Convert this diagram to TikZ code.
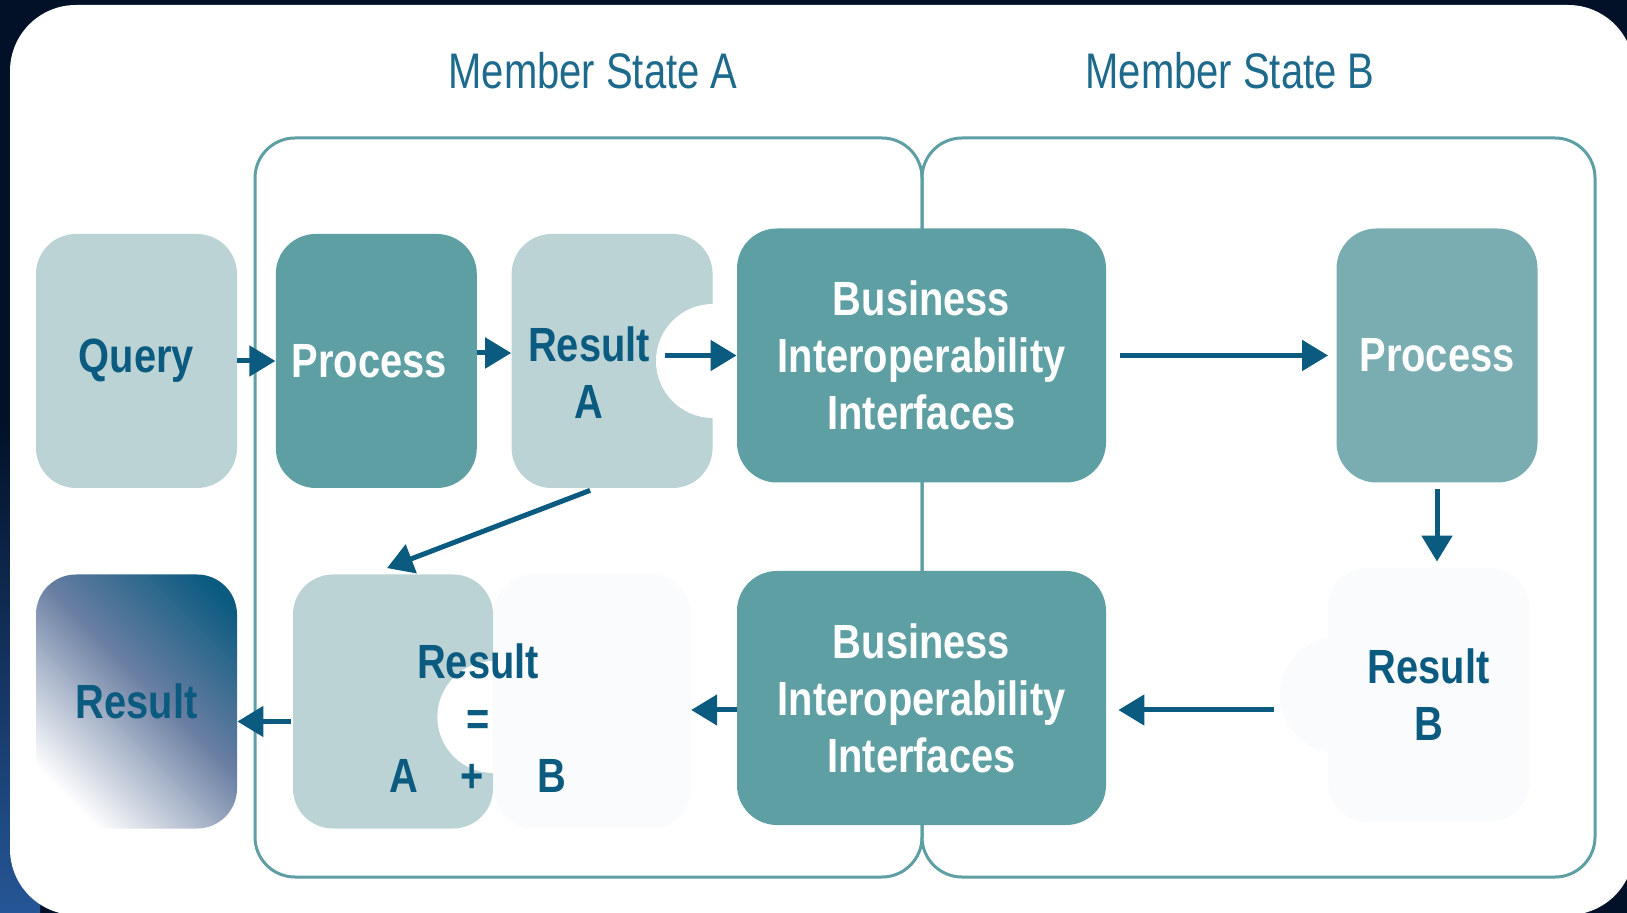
\documentclass[tikz,border=0pt]{standalone}
\usepackage{fontspec}
\setmainfont{Liberation Sans}[FakeStretch=0.83]
\newfontfamily\titlefont{Liberation Sans}[FakeStretch=0.8]
\usetikzlibrary{calc,arrows.meta,positioning}
\definecolor{navy}{HTML}{021128}
\definecolor{tealdark}{HTML}{5E9FA3}
\definecolor{teallight}{HTML}{BCD3D6}
\definecolor{tealmid}{HTML}{7AADB1}
\definecolor{inkblue}{HTML}{0B5A80}
\definecolor{titleblue}{HTML}{1D6A8C}
\definecolor{paper}{HTML}{FAFBFC}
\definecolor{slateblue}{HTML}{6A7FA2}
\pgfdeclareverticalshading{resultfade}{100bp}{color(0bp)=(white); color(24bp)=(white); color(54bp)=(slateblue); color(80bp)=(inkblue); color(100bp)=(inkblue)}

\begin{document}
\begin{tikzpicture}[x=0.5pt,y=-0.5pt,
  node/.style={rectangle,rounded corners=20pt,minimum width=100.5pt,minimum height=127pt,inner sep=0pt,align=center,font=\fontsize{24}{28.5}\selectfont\bfseries},
  lightbox/.style={node,fill=teallight,text=inkblue},
  darkbox/.style={node,fill=tealdark,text=white},
  widebox/.style={darkbox,minimum width=184.5pt},
  ink/.style={align=center,text=inkblue,font=\fontsize{24}{28.5}\selectfont\bfseries},
  finalbox/.style={node,text=inkblue,shading=resultfade,shading angle=-45},
  flowarrow/.style={-{Triangle[length=13pt,width=15pt]},line width=2.5pt,draw=inkblue},
  groupbox/.style={draw=tealdark,line width=1.5pt,rounded corners=20pt},
  statetitle/.style={font=\titlefont\fontsize{25}{30}\selectfont,text=titleblue}]

  \useasboundingbox[fill=navy] (0,0) rectangle (1627,913);
  \begin{scope}
    \clip (0,0) rectangle (1627,913);
    \shade[top color=navy,bottom color={rgb,255:red,38;green,86;blue,150}] (0,420) rectangle (40,913);
    \fill[white,rounded corners=33pt] (10,5) rectangle (1634,915);
  \end{scope}

  % member states
  \draw[groupbox] (255,138) rectangle (922,877);
  \draw[groupbox] (922,138) rectangle (1595,877);
  \node[statetitle] (ta) at (593,71) {Member State A};
  \node[statetitle] (tb) at (1230,71) {Member State B};

  % top row
  \node[lightbox] (1) at (136.5,361) {Query};
  \node[darkbox] (2) [right=19pt of 1] {Process\hspace*{7pt}};
  \node[lightbox] (3) [right=17pt of 2] {};
  \begin{scope}
    \clip (3.south west) rectangle (3.north east);
    \fill[white] (3.east) circle[radius=28.5pt];
  \end{scope}
  \node[ink] (3t) at ($(3.center)+(-11.5pt,-6pt)$) {Result\\A};
  \node[widebox] (4) at (921.5,355.5) {Business\\Interoperability\\Interfaces};
  \node[darkbox,fill=tealmid] (5) at (1437,355.5) {Process};

  % bottom row
  \fill[paper] (1338,695) circle[radius=29pt];
  \node[lightbox,fill=paper] (6) at (1428.5,695) {Result\\B};
  \node[widebox] (7) at (921.5,698) {Business\\Interoperability\\Interfaces};
  \node[lightbox,minimum width=100pt] (8) at (393,701.5) {};
  \node[lightbox,fill=paper,minimum width=98.5pt] (8b) [right=0pt of 8] {};
  \begin{scope}
    \clip (8.south west) rectangle (8.north east);
    \fill[white] ($(8.east)+(0,-7.75pt)$) circle[radius=28pt];
  \end{scope}
  \node[ink] (8t) at (478,718) {Result\\=\\A\hspace*{21pt}+\hspace*{27pt}B};
  \node[finalbox] (9) at (136.5,701.5) {Result};

  % flows
  \draw[flowarrow] (1) -- (2);
  \draw[flowarrow] ([yshift=4pt]2.east) -- ([yshift=4pt]3.west);
  \draw[flowarrow] ($(3.east |- 4.west)+(-24pt,0)$) -- (4.west);
  \draw[flowarrow] ([xshift=7pt]4.east) -- ([xshift=-4pt]5.west);
  \draw[flowarrow] ([yshift=-3pt]5.south) -- ($(5.south |- 6.north)+(0,3pt)$);
  \draw[flowarrow] ($(6.west |- 7.east)+(-27pt,-6pt)$) -- ($(7.east)+(6pt,-6pt)$);
  \draw[flowarrow] ($(7.west)+(0,-6pt)$) -- ($(8b.east |- 7.west)+(0,-6pt)$);
  \draw[flowarrow] ($(8.west)+(-1pt,-10pt)$) -- ($(9.east |- 8.west)+(0,-10pt)$);
  \draw[flowarrow] ($(3.south)+(-11pt,-1pt)$) -- ($(8.north)+(-3pt,3pt)$);

\end{tikzpicture}
\end{document}
